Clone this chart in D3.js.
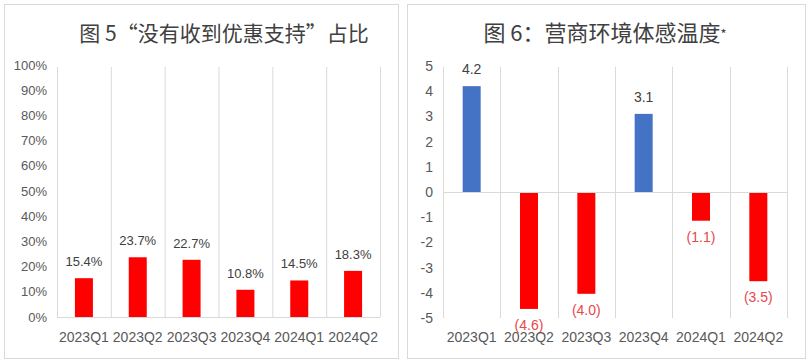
<!DOCTYPE html>
<html>
<head>
<meta charset="utf-8">
<script src="https://cdn.jsdelivr.net/npm/d3@7"></script>
<style>
  body { margin: 0; background: #fff; }
  text { font-family: "Liberation Sans", Arial, "Noto Sans CJK SC", sans-serif; }
  .title { font-family: "Noto Sans CJK SC", sans-serif; }
</style>
</head>
<body>
<div id="chart"></div>
<script>
// data
const quarters = ["2023Q1", "2023Q2", "2023Q3", "2023Q4", "2024Q1", "2024Q2"];
const noSupportShare = [15.4, 23.7, 22.7, 10.8, 14.5, 18.3];
const sentimentTemp = [4.2, -4.6, -4.0, 3.1, -1.1, -3.5];
const pctTicks = [0, 10, 20, 30, 40, 50, 60, 70, 80, 90, 100];
const tempTicks = [5, 4, 3, 2, 1, 0, -1, -2, -3, -4, -5];
const title5 = "图 5“没有收到优惠支持”占比";
const title6 = "图 6：营商环境体感温度";

const svg = d3.select("#chart").append("svg")
  .attr("width", 809)
  .attr("height", 362);

const gridColor = "#d9d9d9";
const textColor = "#595959";

// panel frames
svg.append("rect").attr("x", 4.5).attr("y", 4.5).attr("width", 394).attr("height", 354)
  .attr("fill", "none").attr("stroke", gridColor);
svg.append("rect").attr("x", 407.5).attr("y", 4.5).attr("width", 398).attr("height", 354)
  .attr("fill", "none").attr("stroke", gridColor);

// ---------- left chart ----------
const left = svg.append("g");
const x1 = d3.scaleBand().domain(quarters).range([57, 380]).paddingInner(0).paddingOuter(0);
const y1 = d3.scaleLinear().domain([0, 100]).range([317, 65]);

left.append("text").attr("class", "title")
  .attr("x", 224).attr("y", 41)
  .attr("text-anchor", "middle")
  .attr("font-size", 21).attr("fill", "#404040")
  .text(title5);

// vertical gridlines at band edges
left.selectAll(".vgrid")
  .data(quarters.concat(["end"]))
  .enter().append("line")
  .attr("x1", (d, i) => 57 + i * x1.bandwidth() + 0.5)
  .attr("x2", (d, i) => 57 + i * x1.bandwidth() + 0.5)
  .attr("y1", y1(100) + 2).attr("y2", y1(0))
  .attr("stroke", gridColor);

left.append("line")
  .attr("x1", 57).attr("x2", 380)
  .attr("y1", y1(0) + 0.5).attr("y2", y1(0) + 0.5)
  .attr("stroke", gridColor);

left.selectAll(".ytick")
  .data(pctTicks)
  .enter().append("text")
  .attr("x", 47).attr("y", d => y1(d) + 4.5)
  .attr("text-anchor", "end")
  .attr("font-size", 13).attr("fill", textColor)
  .text(d => d + "%");

left.selectAll(".bar")
  .data(noSupportShare)
  .enter().append("rect")
  .attr("x", (d, i) => x1(quarters[i]) + x1.bandwidth() / 2 - 9)
  .attr("width", 18)
  .attr("y", d => y1(d))
  .attr("height", d => y1(0) - y1(d))
  .attr("fill", "#ff0000");

left.selectAll(".lbl")
  .data(noSupportShare)
  .enter().append("text")
  .attr("x", (d, i) => x1(quarters[i]) + x1.bandwidth() / 2)
  .attr("y", d => y1(d) - 12)
  .attr("text-anchor", "middle")
  .attr("font-size", 13).attr("fill", "#404040")
  .text(d => d.toFixed(1) + "%");

left.selectAll(".xlbl")
  .data(quarters)
  .enter().append("text")
  .attr("x", d => x1(d) + x1.bandwidth() / 2)
  .attr("y", 342)
  .attr("text-anchor", "middle")
  .attr("font-size", 14).attr("fill", textColor)
  .text(d => d);

// ---------- right chart ----------
const right = svg.append("g");
const x2 = d3.scaleBand().domain(quarters).range([443, 787]);
const y2 = d3.scaleLinear().domain([-5, 5]).range([318, 66]);

const t6 = right.append("text").attr("class", "title")
  .attr("x", 605).attr("y", 41)
  .attr("text-anchor", "middle")
  .attr("font-size", 22).attr("fill", "#404040");
t6.append("tspan").text(title6);
t6.append("tspan").attr("font-size", 13).attr("dy", -2).text("*");

right.selectAll(".vgrid")
  .data(quarters.concat(["end"]))
  .enter().append("line")
  .attr("x1", (d, i) => Math.round(443 + i * x2.bandwidth()) + 0.5)
  .attr("x2", (d, i) => Math.round(443 + i * x2.bandwidth()) + 0.5)
  .attr("y1", y2(5) + 1).attr("y2", y2(-5))
  .attr("stroke", gridColor);

right.append("line")
  .attr("x1", 443).attr("x2", 787)
  .attr("y1", y2(0) + 0.5).attr("y2", y2(0) + 0.5)
  .attr("stroke", gridColor);

right.selectAll(".ytick")
  .data(tempTicks)
  .enter().append("text")
  .attr("x", 433).attr("y", d => y2(d) + 5)
  .attr("text-anchor", "end")
  .attr("font-size", 14).attr("fill", textColor)
  .text(d => d);

right.selectAll(".bar")
  .data(sentimentTemp)
  .enter().append("rect")
  .attr("x", (d, i) => x2(quarters[i]) + x2.bandwidth() / 2 - 9)
  .attr("width", 18)
  .attr("y", d => d >= 0 ? y2(d) : y2(0) + 1)
  .attr("height", d => Math.abs(y2(d) - y2(0)))
  .attr("fill", d => d >= 0 ? "#4472c4" : "#ff0000");

right.selectAll(".lbl")
  .data(sentimentTemp)
  .enter().append("text")
  .attr("x", (d, i) => x2(quarters[i]) + x2.bandwidth() / 2)
  .attr("y", d => d >= 0 ? y2(d) - 12 : y2(d) + 22)
  .attr("text-anchor", "middle")
  .attr("font-size", 14)
  .attr("fill", d => d >= 0 ? "#404040" : "#e8474b")
  .text(d => d >= 0 ? d.toFixed(1) : "(" + Math.abs(d).toFixed(1) + ")");

right.selectAll(".xlbl")
  .data(quarters)
  .enter().append("text")
  .attr("x", d => x2(d) + x2.bandwidth() / 2)
  .attr("y", 342)
  .attr("text-anchor", "middle")
  .attr("font-size", 14).attr("fill", textColor)
  .text(d => d);
</script>
</body>
</html>
